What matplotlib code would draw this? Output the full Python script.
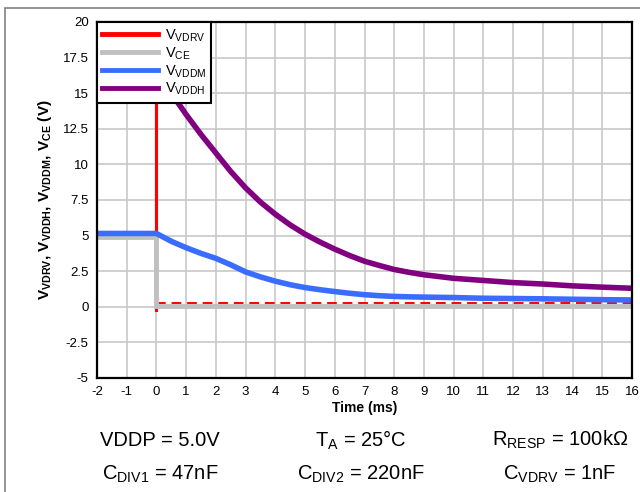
import matplotlib
matplotlib.use("Agg")
import matplotlib.pyplot as plt
from matplotlib.patches import Rectangle

plt.rcParams['font.family'] = ['Liberation Sans', 'DejaVu Sans']
plt.rcParams['mathtext.fontset'] = 'custom'
plt.rcParams['mathtext.rm'] = 'Liberation Sans'
plt.rcParams['mathtext.bf'] = 'Liberation Sans:bold'
plt.rcParams['axes.unicode_minus'] = False

time_ms = [-2, 0, 0.5, 1, 1.5, 2, 2.5, 3, 3.5, 4, 4.5, 5, 5.5, 6, 6.5, 7, 7.5,
           8, 8.5, 9, 10, 11, 12, 13, 14, 15, 16]
v_vddh = [16.6, 16.6, 15.0, 13.5, 12.1, 10.8, 9.5, 8.35, 7.35, 6.5, 5.75, 5.1, 4.55,
          4.05, 3.6, 3.2, 2.9, 2.62, 2.42, 2.25, 2.0, 1.85, 1.7, 1.6, 1.47, 1.38, 1.3]
v_vddm = [5.15, 5.15, 4.6, 4.15, 3.75, 3.4, 2.95, 2.45, 2.1, 1.8, 1.55, 1.35, 1.2,
          1.07, 0.95, 0.85, 0.78, 0.73, 0.7, 0.68, 0.65, 0.6, 0.58, 0.56, 0.53, 0.5, 0.48]
vce_pre_t = [-2, 0]
v_vce_pre = [4.9, 4.9]
vce_t = [0, 0, 16]
v_vce = [4.9, 0.05, 0.05]
vdrv_t = [-2, 0, 0, 0]
v_vdrv = [5.0, 5.0, 21, -0.2]
vdrv_tail_t = [0, 16]
v_vdrv_tail = [0.27, 0.27]

x_ticks = list(range(-2, 17))
y_ticks = [-5, -2.5, 0, 2.5, 5, 7.5, 10, 12.5, 15, 17.5, 20]
y_ticklabels = ['-5', '-2.5', '0', '2.5', '5', '7.5', '10', '12.5', '15', '17.5', '20']

fig = plt.figure(figsize=(6.4, 4.92), dpi=100)
ax = fig.add_axes([97 / 640, 1 - 378 / 492, 535 / 640, 356 / 492])

# Traces
l_drv, = ax.plot(vdrv_t, v_vdrv, color='#ff0000', lw=2.2, label=r'V$_\mathrm{VDRV}$')
ax.plot(vdrv_tail_t, v_vdrv_tail, color='#ff0000', lw=1.4, ls=(0, (5, 3)))
l_ce, = ax.plot(vce_pre_t, v_vce_pre, color='#c0c0c0', lw=3.5, label=r'V$_\mathrm{CE}$')
ax.plot(vce_t, v_vce, color='#c0c0c0', lw=3.5, solid_joinstyle='miter')
l_ddm, = ax.plot(time_ms, v_vddm, color='#3a6cff', lw=4, label=r'V$_\mathrm{VDDM}$',
                 solid_joinstyle='round')
l_ddh, = ax.plot(time_ms, v_vddh, color='#800080', lw=4, label=r'V$_\mathrm{VDDH}$',
                 solid_joinstyle='round')

ax.set_xlim(-2, 16)
ax.set_ylim(-5, 20)
ax.set_xticks(x_ticks)
ax.set_yticks(y_ticks)
ax.set_yticklabels(y_ticklabels)
ax.tick_params(length=0, labelsize=9.5, pad=6)
ax.grid(True, color='#c8c8c8', lw=1.2)
ax.set_axisbelow(True)
for s in ax.spines.values():
    s.set_linewidth(1.6)
    s.set_color('black')

ax.set_xlabel('Time (ms)', fontsize=10, fontweight='bold', labelpad=2)
ax.set_ylabel(r'V$_\mathbf{VDRV}$, V$_\mathbf{VDDH}$, V$_\mathbf{VDDM}$, V$_\mathbf{CE}$ (V)',
              fontsize=11, fontweight='bold', labelpad=6)

leg = ax.legend(handles=[l_drv, l_ce, l_ddm, l_ddh], loc='upper left',
                fontsize=10.5, frameon=True, fancybox=False, framealpha=1,
                edgecolor='black', borderaxespad=0, handlelength=3.8,
                handletextpad=0.5, labelspacing=0.08, borderpad=0.35)
leg.get_frame().set_linewidth(1.5)
for h in leg.legend_handles:
    h.set_linewidth(3.5)

# Test conditions below the plot
cond_row1 = [r'VDDP = 5.0V', r'T$_\mathrm{A}$ = 25°C', r'R$_\mathrm{RESP}$ = 100kΩ']
cond_row2 = [r'C$_\mathrm{DIV1}$ = 47nF', r'C$_\mathrm{DIV2}$ = 220nF', r'C$_\mathrm{VDRV}$ = 1nF']
cond_x = [160 / 640, 361 / 640, 560 / 640]
for x, s in zip(cond_x, cond_row1):
    fig.text(x, 1 - 440 / 492, s, ha='center', va='center', fontsize=14.5)
for x, s in zip(cond_x, cond_row2):
    fig.text(x, 1 - 474 / 492, s, ha='center', va='center', fontsize=14.5)

# Outer frame
fig.patches.append(Rectangle((5 / 640, -0.1), 1.2, 1.1 - 8 / 492,
                             transform=fig.transFigure, fill=False,
                             edgecolor='#808080', lw=1.2, clip_on=False))

fig.savefig('out.png', dpi=100, facecolor='white')
